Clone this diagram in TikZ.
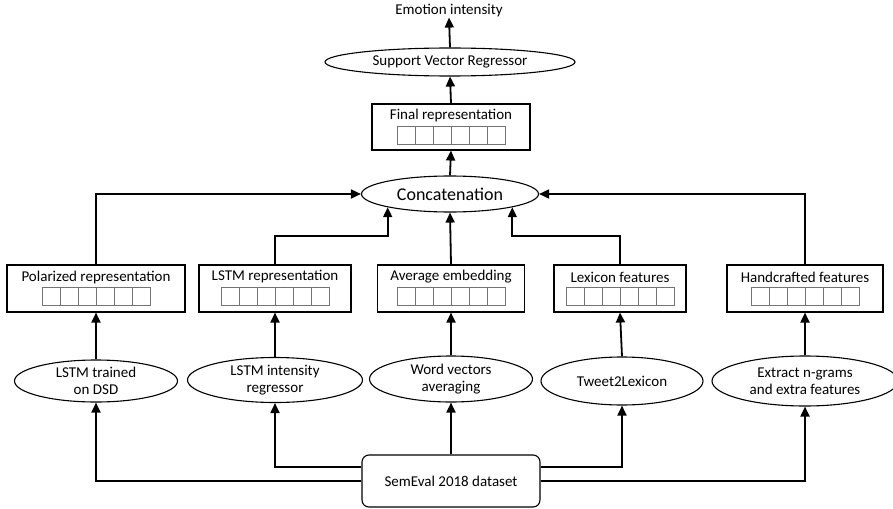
\documentclass[tikz,border=0pt]{standalone}
\usepackage{fontspec}
\setmainfont{Carlito}
\usetikzlibrary{shapes.geometric,arrows.meta,calc}
\begin{document}
\begin{tikzpicture}[x=1pt,y=-1pt,
  lbl/.style={font=\fontsize{15}{17.5}\selectfont, inner sep=0pt},
  ell/.style={draw, ellipse, line width=1.1pt, inner sep=0pt, align=center, font=\fontsize{15}{17.5}\selectfont},
  rbox/.style={draw, rectangle, line width=1.1pt, inner sep=0pt},
  cell/.style={draw=black!55, line width=0.6pt},
  arr/.style={line width=1.8pt, -{Triangle[length=10pt,width=9pt]}},
  ln/.style={line width=1.8pt}]
\useasboundingbox (0,0) rectangle (893,508);

% top
\node[lbl] (emo) at (449,11) {Emotion intensity};
\node[ell, minimum width=250pt, minimum height=28pt] (svr) at (450,62) {Support Vector Regressor};
\node[rbox, minimum width=158pt, minimum height=46pt] (final) at (451,127) {};
\node[lbl] (finallbl) at (451,116) {Final representation};
\foreach \i in {0,...,5} \draw[cell] (397+18*\i,126) rectangle ++(18,18);

\node[ell, minimum width=177pt, minimum height=36pt, font=\fontsize{18}{21}\selectfont] (concat) at (450,194) {Concatenation};

% representation boxes
\newcommand{\repbox}[4]{%
  \node[rbox, minimum width=#3pt, minimum height=47pt] (#1) at (#2,288.5) {};
  \node[lbl] (#1lbl) at (#2,277) {#4};
  \foreach \i in {0,...,5} \draw[cell] (#2-54+18*\i,287) rectangle ++(18,18);
}
\repbox{polbox}{96}{178}{Polarized representation}
\repbox{lstmbox}{275}{152}{LSTM representation}
\repbox{avgbox}{451}{147}{Average embedding}
\repbox{lexbox}{620}{132}{Lexicon features}
\repbox{handbox}{805}{156}{Handcrafted features}

% ellipses
\node[ell, minimum width=163pt, minimum height=42pt] (dsd) at (96,381) {LSTM trained\\on DSD};
\node[ell, minimum width=175pt, minimum height=45pt] (lstmi) at (275,380) {LSTM intensity\\regressor};
\node[ell, minimum width=163pt, minimum height=46pt] (wv) at (451,379) {Word vectors\\averaging};
\node[ell, minimum width=162pt, minimum height=48pt] (tw) at (622,381) {Tweet2Lexicon};
\node[ell, minimum width=186pt, minimum height=50pt] (ext) at (805,381) {Extract n-grams\\and extra features};

% dataset
\node[rbox, rounded corners=7pt, minimum width=178pt, minimum height=52pt, font=\fontsize{15}{17.5}\selectfont] (sem) at (451,481) {SemEval 2018 dataset};

% connectors from dataset
\draw[arr] (sem.west) -| (dsd.south);
\draw[arr] ([yshift=14pt]sem.west) -| (lstmi.south);
\draw[arr] (sem.north) -- (wv.south);
\draw[arr] ([yshift=14pt]sem.east) -| (tw.south);
\draw[arr] (sem.east) -| (ext.south);

% ellipses to boxes
\draw[arr] (dsd.north) -- (polbox.south);
\draw[arr] (lstmi.north) -- (lstmbox.south);
\draw[arr] (wv.north) -- (avgbox.south);
\draw[arr] (tw.north) -- (lexbox.south);
\draw[arr] (ext.north) -- (handbox.south);

% boxes to concatenation
\coordinate (lv) at (0,236);
\draw[arr] (polbox.north) |- (concat.west);
\draw[arr] (handbox.north) |- (concat.east);
\draw[arr] (lstmbox.north) |- (concat.192 |- lv) -- (concat.192);
\draw[arr] (lexbox.north) |- (concat.348 |- lv) -- (concat.348);
\draw[arr] (avgbox.north) -- (concat.south);

% upper chain
\draw[arr] (concat.north) -- (final.south);
\draw[arr] (final.north) -- (svr.south);
\draw[arr] (svr.north) -- (emo.south);
\end{tikzpicture}
\end{document}
